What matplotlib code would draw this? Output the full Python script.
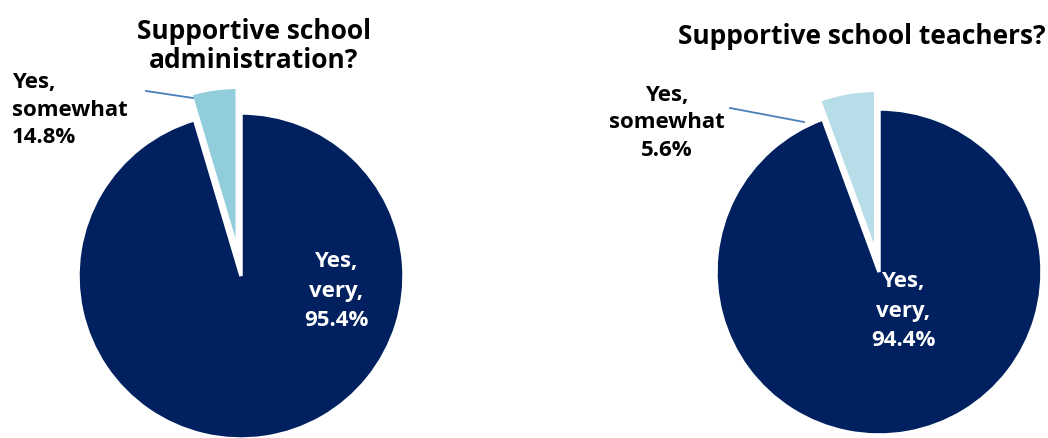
import matplotlib
matplotlib.use("Agg")
import matplotlib.pyplot as plt

# --- data ---
categories = ["Yes, very", "Yes, somewhat"]
titles = ["Supportive school\nadministration?", "Supportive school teachers?"]
admin_shares = [95.4, 4.6]        # slice sizes as drawn
teacher_shares = [94.4, 5.6]
admin_printed = [95.4, 14.8]      # percentages printed on the labels
teacher_printed = [94.4, 5.6]

NAVY = "#002060"
LIGHT = ["#92cddc", "#b7dde8"]
LEADER = "#4a7ebb"

plt.rcParams["font.family"] = ["Open Sans", "DejaVu Sans"]
plt.rcParams["font.weight"] = "bold"

W, H = 1048, 439
fig = plt.figure(figsize=(W / 100, H / 100), dpi=100)
ax = fig.add_axes([0, 0, 1, 1])


def label_text(cat, pct):
    first, second = cat.split(", ")
    sep = ",\n" if second == "very" else "\n"
    return f"{first},\n{second}{sep}{pct:.1f}%"


# geometry in pixel units (y measured from the bottom)
pies = [
    dict(shares=admin_shares, printed=admin_printed, center=(241, H - 277), r=163,
         explode=26, light=LIGHT[0]),
    dict(shares=teacher_shares, printed=teacher_printed, center=(879, H - 273), r=163,
         explode=19, light=LIGHT[1]),
]

for p in pies:
    ax.pie(p["shares"], center=p["center"], radius=p["r"], startangle=90,
           counterclock=False, explode=[0, p["explode"]],
           colors=[NAVY, p["light"]],
           wedgeprops=dict(edgecolor="white", linewidth=2.5))

ax.set_xlim(0, W)
ax.set_ylim(0, H)
ax.set_aspect("equal")
ax.axis("off")

# titles
ax.text(254, H - 46, titles[0], ha="center", va="center", fontsize=19,
        fontweight="bold", color="black", linespacing=1.1)
ax.text(862, H - 36, titles[1], ha="center", va="center", fontsize=19,
        fontweight="bold", color="black")

# inside labels
lab_kw = dict(fontsize=16, fontweight="bold", linespacing=1.5)
ax.text(336, H - 291, label_text(categories[0], admin_printed[0]),
        ha="center", va="center", color="white", **lab_kw)
ax.text(903, H - 311, label_text(categories[0], teacher_printed[0]),
        ha="center", va="center", color="white", **lab_kw)

# outside labels with leader lines
lab_kw2 = dict(fontsize=16, fontweight="bold", linespacing=1.42)
ax.text(12, H - 110, label_text(categories[1], admin_printed[1]),
        ha="left", va="center", color="black", **lab_kw2)
ax.plot([146, 193], [H - 92, H - 99], color=LEADER, lw=1.3)
ax.text(667, H - 123, label_text(categories[1], teacher_printed[1]),
        ha="center", va="center", color="black", **lab_kw2)
ax.plot([730, 804], [H - 109, H - 123], color=LEADER, lw=1.3)

fig.savefig("out.png", dpi=100)
